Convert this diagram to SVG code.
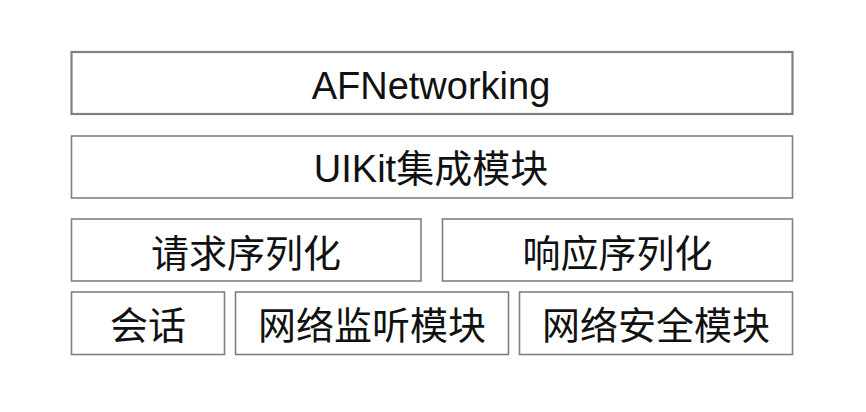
<svg xmlns="http://www.w3.org/2000/svg" width="866" height="412" viewBox="0 0 866 412">
<style>
rect.box{fill:#fff;stroke:#808080;stroke-width:1.6}
text{font-family:"Liberation Sans","Noto Sans CJK SC",Arial,sans-serif;font-size:38px;fill:#111;text-anchor:middle}
text.cjk{font-family:"Noto Sans CJK SC","Liberation Sans",sans-serif;font-size:38px}
</style>
<rect width="866" height="412" fill="#fff"/>
<g id="afnetworking"><rect class="box" x="71.5" y="52" width="721" height="62" style="stroke-width:2.2"/><text x="431" y="99">AFNetworking</text></g>
<g id="uikit"><rect class="box" x="71.5" y="136" width="721" height="62"/><text x="431" y="182">UIKit集成模块</text></g>
<g id="request"><rect class="box" x="71.5" y="219" width="349.5" height="62"/><text class="cjk" x="246" y="267">请求序列化</text></g>
<g id="response"><rect class="box" x="442.5" y="219" width="350" height="62"/><text class="cjk" x="617.5" y="267">响应序列化</text></g>
<g id="session"><rect class="box" x="71.5" y="292" width="153" height="62.5"/><text class="cjk" x="148" y="338.5">会话</text></g>
<g id="reachability"><rect class="box" x="235.5" y="292" width="273" height="62.5"/><text class="cjk" x="372" y="338.5">网络监听模块</text></g>
<g id="security"><rect class="box" x="519.5" y="292" width="273" height="62.5"/><text class="cjk" x="656" y="338.5">网络安全模块</text></g>
<g id="connectors"/>
</svg>
